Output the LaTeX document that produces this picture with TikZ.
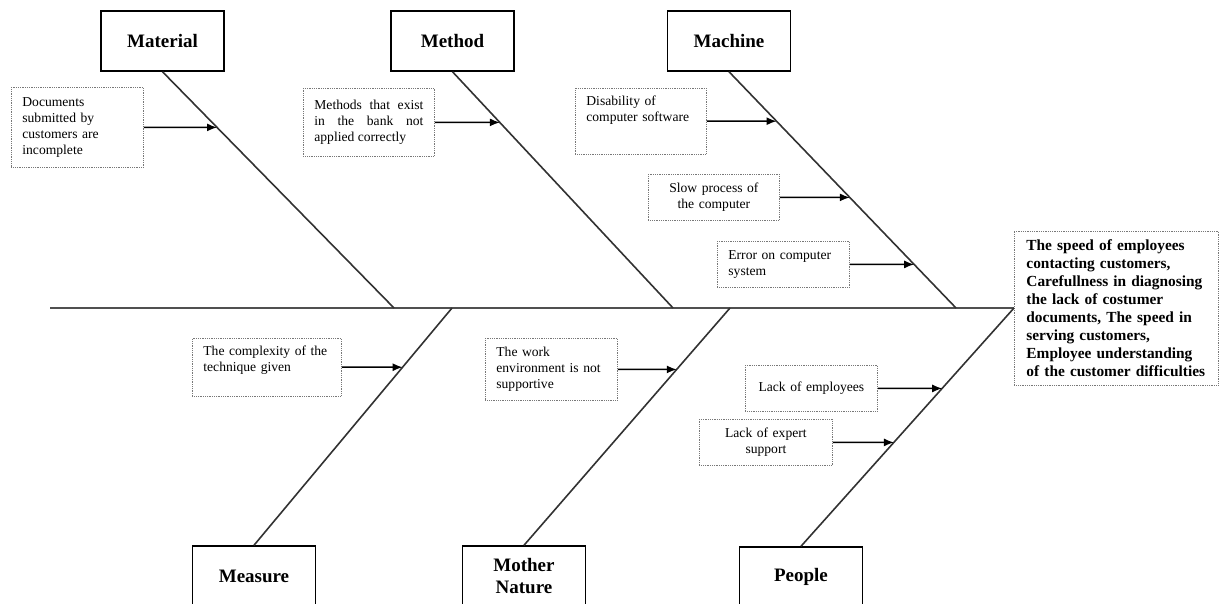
\documentclass[tikz,border=0pt]{standalone}
\usepackage{fontspec}
\setmainfont{Liberation Serif}
\usepackage{xcolor}
\usepackage{tikz}
\usetikzlibrary{positioning,arrows.meta}
\definecolor{spineclr}{RGB}{80,80,80}
\definecolor{boneclr}{RGB}{50,50,50}
\definecolor{dotclr}{RGB}{120,120,120}
\tikzset{
    cat/.style={rectangle,draw=black,line width=1.5pt,fill=white,
                minimum width=123pt,minimum height=60pt,inner sep=2pt,
                align=center,font=\fontsize{19}{22}\selectfont\bfseries},
    cause/.style={rectangle,draw=dotclr,densely dotted,line width=0.8pt,
                  anchor=north west,inner xsep=11pt,inner ysep=8pt,
                  align=left,font=\fontsize{13.6}{16}\selectfont},
    effect/.style={cause,anchor=west,inner xsep=12pt,inner ysep=8.5pt,
                   font=\fontsize{15.4}{18}\selectfont\bfseries},
    bone/.style={draw=boneclr,line width=1.6pt},
    spine/.style={draw=spineclr,line width=2.6pt},
    arr/.style={-{Latex[length=10pt,width=8pt]},line width=1.5pt},
}

\begin{document}
\begin{tikzpicture}[x=1pt,y=-1pt]
\useasboundingbox (0,0) rectangle (1220,604);
% categories
\node[cat] (material) at (162.5,41) {Material};
\node[cat] (method)   at (452.5,41) {Method};
\node[cat] (machine)  at (729,41)   {Machine};
\node[cat] (measure)  at (254,576)  {Measure};
\node[cat] (nature)   at (524,576)  {Mother\\Nature};
\node[cat] (people)   at (801,577)  {People};

% effect (head of the fish)
\node[effect,text width=180pt] (effect) at (1014,308) {The speed of employees\\
  contacting customers,\\Carefullness in diagnosing\\the lack of costumer\\
  documents, The speed in\\serving customers,\\Employee understanding\\
  of the customer difficulties};

% spine and bones
\coordinate (tail) at (50,308);
\coordinate (mt) at (394,308);
\coordinate (md) at (673,308);
\coordinate (mc) at (956,308);
\coordinate (ms) at (452,308);
\coordinate (mn) at (730,308);
\draw[spine] (tail) -- (effect.west);
\draw[bone] (material.south) -- (mt);
\draw[bone] (method.south) -- (md);
\draw[bone] (machine.south) -- (mc);
\draw[bone] (measure.north) -- (ms);
\draw[bone] (nature.north) -- (mn);
\draw[bone] (people.north) -- (effect.west);

% causes
\node[cause,text width=110pt,minimum height=80pt] (docs) at (11,87)
  {Documents\\submitted by\\customers are\\incomplete};
\node[cause,text width=109pt,minimum height=68pt,align=justify] (meth) at (303,88)
  {Methods that exist\linebreak in the bank not\linebreak applied correctly};
\node[cause,text width=109pt,text depth=40pt] (soft) at (575,88)
  {Disability of\\computer software};
\node[cause,text width=109pt,minimum height=46pt,align=center] (slow) at (648,174)
  {Slow process of\\the computer};
\node[cause,text width=110pt,minimum height=46pt] (err) at (717,241)
  {Error on computer\\system};
\node[cause,text width=127pt,text depth=32pt] (tech) at (192,338)
  {The complexity of the\\technique given};
\node[cause,text width=110pt,minimum height=62pt] (env) at (485,338)
  {The work\\environment is not\\supportive};
\node[cause,text width=110pt,minimum height=46pt,align=center] (emp) at (745,365)
  {Lack of employees};
\node[cause,text width=111pt,minimum height=46pt,align=center] (expert) at (699,419)
  {Lack of expert\\support};

% arrows onto the bones
\foreach \n/\p/\q in {docs/material.south/mt, meth/method.south/md,
    soft/machine.south/mc, slow/machine.south/mc, err/machine.south/mc,
    tech/measure.north/ms, env/nature.north/mn,
    emp/people.north/effect.west, expert/people.north/effect.west}
{
  \coordinate (h\n) at (\n.east -| \q);
  \draw[arr] (\n.east) -- (intersection cs:
      first line={(\p)--(\q)}, second line={(\n.east)--(h\n)});
}
\end{tikzpicture}
\end{document}
